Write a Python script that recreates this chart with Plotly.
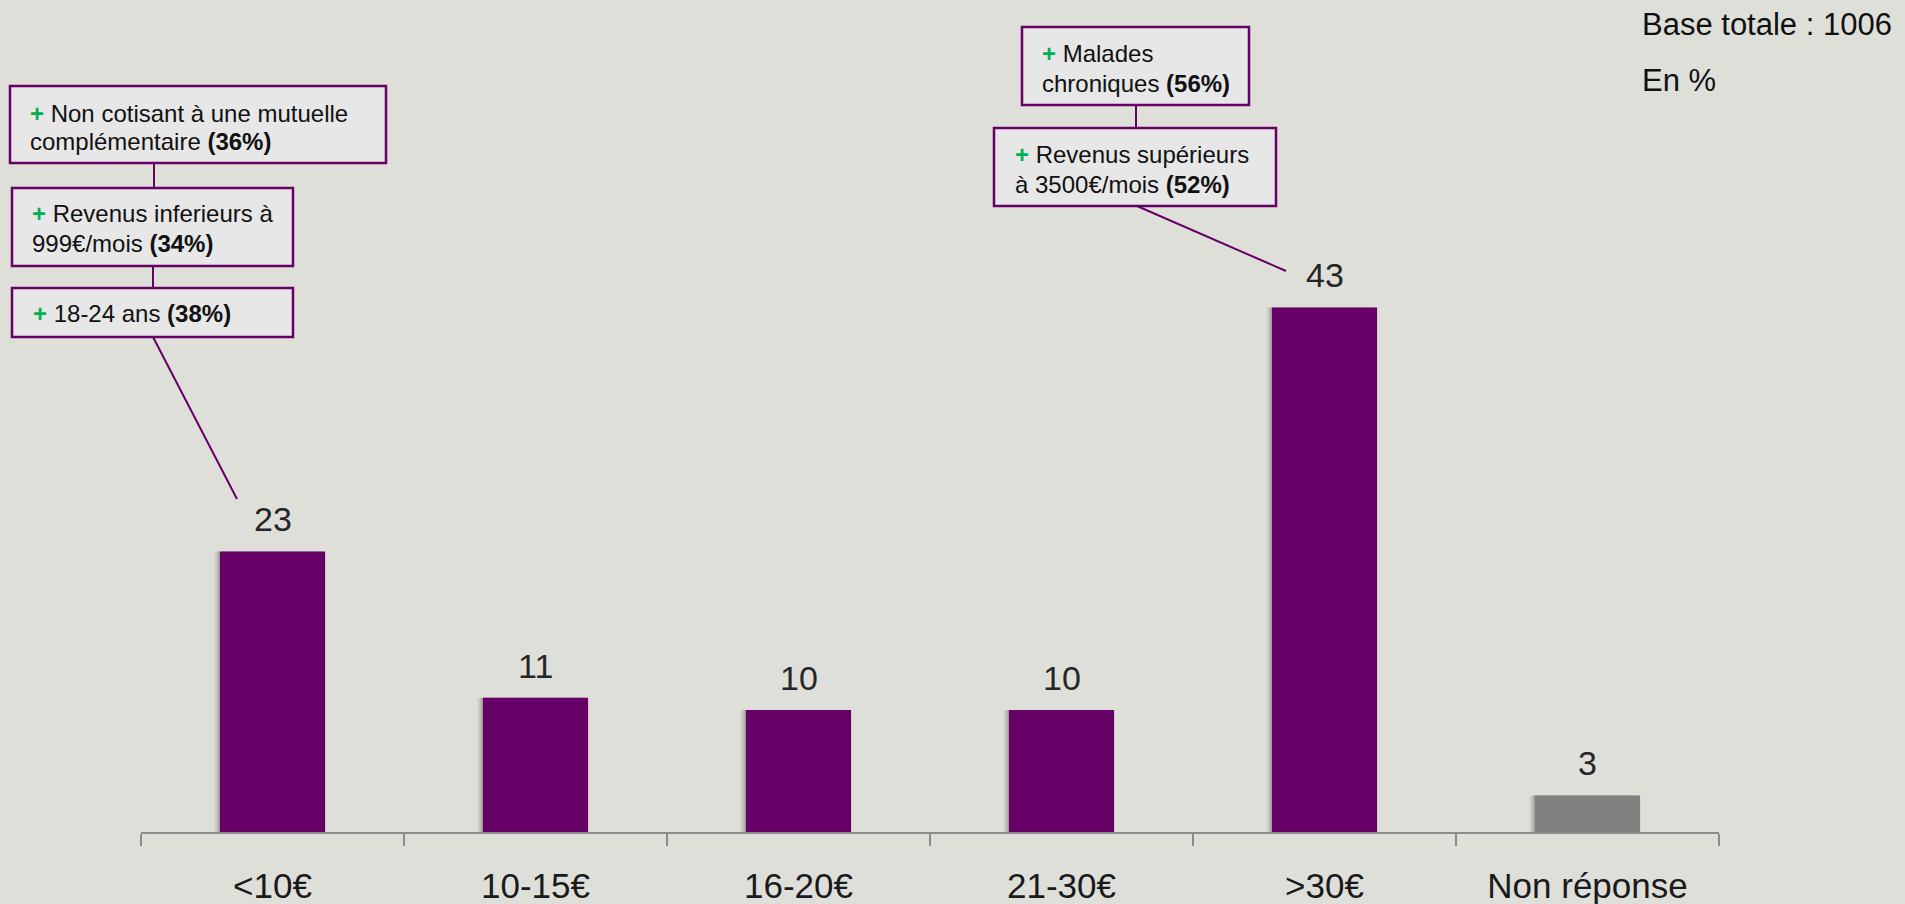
import plotly.graph_objects as go

# ---- data ----
categories = ["<10€", "10-15€", "16-20€", "21-30€", ">30€", "Non réponse"]
values = [23, 11, 10, 10, 43, 3]

base_text = "Base totale : 1006"
unit_text = "En %"

left_callouts = [
    ["Non cotisant à une mutuelle", "complémentaire", "36%"],
    ["Revenus inferieurs à", "999€/mois", "34%"],
    ["18-24 ans", None, "38%"],
]
right_callouts = [
    ["Malades", "chroniques", "56%"],
    ["Revenus supérieurs", "à 3500€/mois", "52%"],
]

# ---- style ----
W, H = 1905, 904
PL, PR, PT, PB = 141, 1719, 0, 832  # plot area in pixels
FONT = "Liberation Sans, Arial, sans-serif"
BG = "#DFDFDA"
PURPLE = "#660066"
GREY_BAR = "#808080"
GREEN = "#00B050"
BOX_FILL = "#E7E7E7"
bar_colors = [PURPLE] * 5 + [GREY_BAR]
BAR_W = 0.4


def px(x):
    return (x - PL) / (PR - PL)


def py(y):
    return (PB - y) / (PB - PT)


fig = go.Figure()
# soft shadow on the left of each bar
for off, alpha in [(0.02, 0.07), (0.012, 0.09), (0.006, 0.10)]:
    fig.add_trace(go.Bar(
        x=categories, y=values, width=BAR_W, offset=-BAR_W / 2 - off,
        marker=dict(color="rgba(0,0,0,%s)" % alpha, line=dict(width=0)),
        hoverinfo="skip",
    ))
fig.add_trace(go.Bar(
    x=categories, y=values, width=BAR_W, offset=-BAR_W / 2,
    marker=dict(color=bar_colors, line=dict(width=0)),
    hoverinfo="skip",
))

annotations = []
# value labels
for c, v in zip(categories, values):
    annotations.append(dict(
        x=c, y=v, xref="x", yref="y", text=str(v), showarrow=False,
        yanchor="middle", xanchor="center", yshift=32,
        font=dict(family=FONT, size=34, color="#262626"),
    ))

shapes = []


def box(x0, y0, x1, y1):
    shapes.append(dict(type="rect", xref="paper", yref="paper",
                       x0=px(x0), x1=px(x1), y0=py(y1), y1=py(y0),
                       fillcolor=BOX_FILL, line=dict(color=PURPLE, width=2.5),
                       layer="above"))


def seg(x0, y0, x1, y1):
    shapes.append(dict(type="line", xref="paper", yref="paper",
                       x0=px(x0), x1=px(x1), y0=py(y0), y1=py(y1),
                       line=dict(color=PURPLE, width=2), layer="above"))


def txt(x, y, s):
    annotations.append(dict(
        x=px(x), y=py(y), xref="paper", yref="paper", text=s,
        showarrow=False, xanchor="left", yanchor="middle", align="left",
        font=dict(family=FONT, size=24, color="#111111"),
    ))


def callout_lines(item):
    first, second, pct = item
    plus = "<span style='color:%s'><b>+</b></span> " % GREEN
    if second is None:
        return [plus + first + " <b>(" + pct + ")</b>"]
    return [plus + first, second + " <b>(" + pct + ")</b>"]


# left callout stack
seg(154, 163, 154, 188)
seg(153, 266, 153, 288)
seg(153, 337, 237, 499)
box(10, 86, 386, 163)
box(12, 188, 293, 266)
box(12, 288, 293, 337)
l1 = callout_lines(left_callouts[0])
txt(28, 113, l1[0]); txt(28, 141, l1[1])
l2 = callout_lines(left_callouts[1])
txt(30, 214, l2[0]); txt(30, 243, l2[1])
l3 = callout_lines(left_callouts[2])
txt(31, 313, l3[0])

# right callout stack
seg(1136, 105, 1136, 128)
seg(1137, 206, 1286, 271)
box(1022, 27, 1249, 105)
box(994, 128, 1276, 206)
r1 = callout_lines(right_callouts[0])
txt(1040, 54, r1[0]); txt(1040, 83, r1[1])
r2 = callout_lines(right_callouts[1])
txt(1013, 154, r2[0]); txt(1013, 184, r2[1])

# top-right notes
for t, yy in [(base_text, 24), (unit_text, 80)]:
    annotations.append(dict(
        x=px(1640), y=py(yy), xref="paper", yref="paper", text=t,
        showarrow=False, xanchor="left", yanchor="middle",
        font=dict(family=FONT, size=31, color="#111111"),
    ))

fig.update_layout(
    width=W, height=H,
    margin=dict(l=PL, r=W - PR, t=PT, b=H - PB, autoexpand=False),
    paper_bgcolor=BG, plot_bgcolor=BG,
    showlegend=False, barmode="overlay",
    shapes=shapes, annotations=annotations,
    xaxis=dict(
        type="category", showgrid=False, zeroline=False,
        showline=True, linecolor="#8C8C8C", linewidth=1.5,
        ticks="outside", tickson="boundaries", ticklen=12,
        tickcolor="#8C8C8C", tickwidth=1.5,
        tickfont=dict(family=FONT, size=35, color="#1A1A1A"),
        ticklabelstandoff=22, automargin=False,
        range=[-0.5, 5.5],
    ),
    yaxis=dict(visible=False, range=[0, 68.2], fixedrange=True),
)

fig.write_html(
    "out.html",
    config={"displayModeBar": False},
    post_script="document.body.style.margin='0';document.body.style.overflow='hidden';document.body.style.background='%s';" % BG,
)
